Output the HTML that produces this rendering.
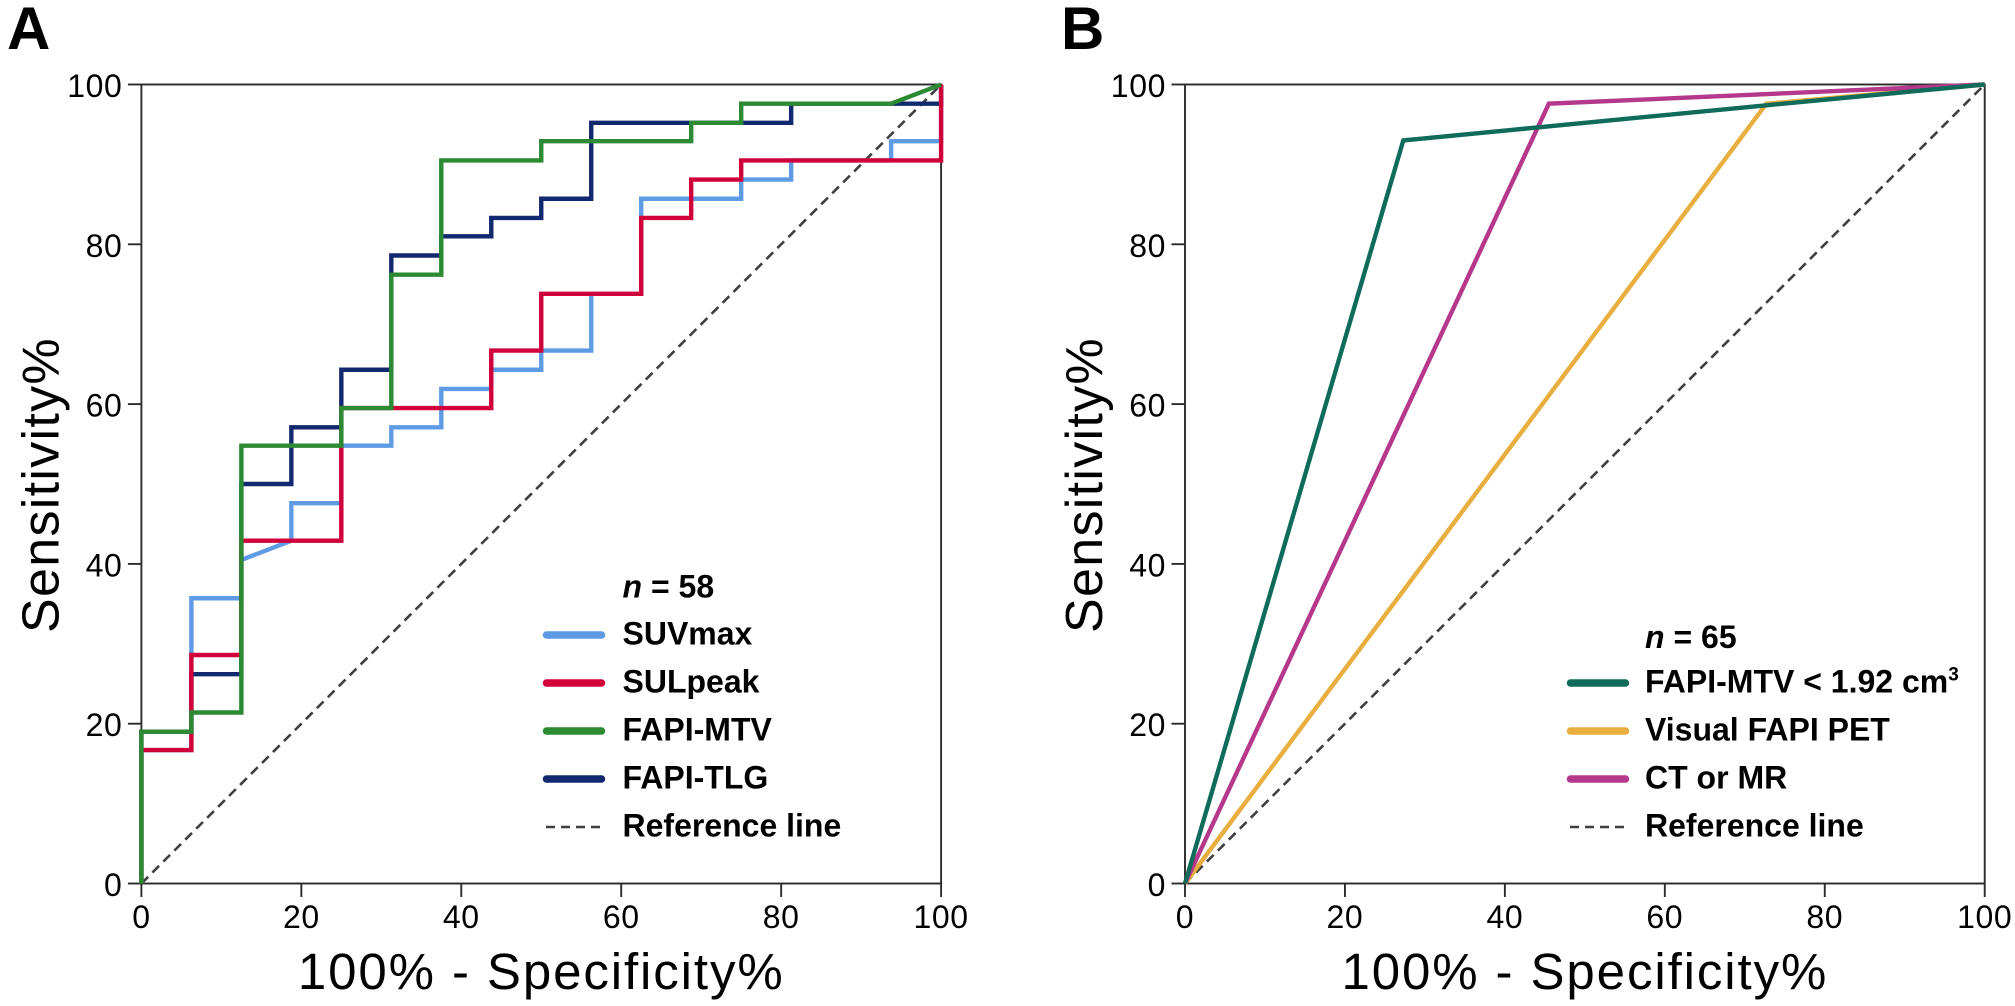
<!DOCTYPE html>
<html lang="en">
<head>
<meta charset="utf-8">
<title>ROC curves</title>
<style>
html,body{margin:0;padding:0;background:#fff;}
svg{display:block;font-family:"Liberation Sans",Arial,sans-serif;}
</style>
</head>
<body>
<svg id="fig" xmlns="http://www.w3.org/2000/svg" width="2015" height="1006" viewBox="0 0 2015 1006">
  <rect width="2015" height="1006" fill="#fff"/>
  <text x="7" y="49" font-size="60" font-weight="700" fill="#000">A</text>
  <text x="1061" y="49" font-size="60" font-weight="700" fill="#000">B</text>
  <g id="panelA"></g>
  <g id="panelB"></g>
</svg>
<script>
const xTicks = [0, 20, 40, 60, 80, 100];
const yTicks = [0, 20, 40, 60, 80, 100];
const referenceX = [0, 100];
const referenceY = [0, 100];

const suvmaxX = [0,0,6.25,6.25,12.5,12.5,18.75,18.75,25,25,31.25,31.25,37.5,37.5,43.75,43.75,50,50,56.25,56.25,62.5,62.5,75,75,81.25,81.25,93.75,93.75,100,100];
const suvmaxY = [0,16.7,16.7,35.7,35.7,40.5,42.9,47.6,47.6,54.8,54.8,57.1,57.1,61.9,61.9,64.3,64.3,66.7,66.7,73.8,73.8,85.7,85.7,88.1,88.1,90.5,90.5,92.9,92.9,100];

const tlgX = [0,0,6.25,6.25,12.5,12.5,18.75,18.75,25,25,31.25,31.25,37.5,37.5,43.75,43.75,50,50,56.25,56.25,81.25,81.25,100,100];
const tlgY = [0,19,19,26.2,26.2,50,50,57.1,57.1,64.3,64.3,78.6,78.6,81,81,83.3,83.3,85.7,85.7,95.2,95.2,97.6,97.6,100];

const sulpeakX = [0,0,6.25,6.25,12.5,12.5,25,25,43.75,43.75,50,50,62.5,62.5,68.75,68.75,75,75,100,100];
const sulpeakY = [0,16.7,16.7,28.6,28.6,42.9,42.9,59.5,59.5,66.7,66.7,73.8,73.8,83.3,83.3,88.1,88.1,90.5,90.5,100];

const mtvX = [0,0,6.25,6.25,12.5,12.5,25,25,31.25,31.25,37.5,37.5,50,50,68.75,68.75,75,75,93.75,100];
const mtvY = [0,19,19,21.4,21.4,54.8,54.8,59.5,59.5,76.2,76.2,90.5,90.5,92.9,92.9,95.2,95.2,97.6,97.6,100];

const cutoffX = [0,27.3,72.7,100];
const cutoffY = [0,93,97.4,100];
const visualX = [0,72.7,100];
const visualY = [0,97.6,100];
const ctmrX = [0,45.5,100];
const ctmrY = [0,97.6,100];

const legendALabels = ["SUVmax","SULpeak","FAPI-MTV","FAPI-TLG","Reference line"];
const legendBLabels = ["FAPI-MTV < 1.92 cm","Visual FAPI PET","CT or MR","Reference line"];

const SVGNS = "http://www.w3.org/2000/svg";
function mk(parent, tag, attrs, text) {
  const el = document.createElementNS(SVGNS, tag);
  for (const k in attrs) el.setAttribute(k, attrs[k]);
  if (text !== undefined) el.textContent = text;
  parent.appendChild(el);
  return el;
}
function panel(root, left) {
  const right = left + 799.7, top = 84.5, bottom = 883.5;
  const sx = v => left + (v / 100) * (right - left);
  const sy = v => bottom - (v / 100) * (bottom - top);

  const curve = (xs, ys, color, name, w, dash) => {
    const pts = xs.map((x, i) => sx(x).toFixed(2) + "," + sy(ys[i]).toFixed(2)).join(" ");
    const pl = mk(root, "polyline", {points: pts, fill: "none", stroke: color, "stroke-width": w, "stroke-linejoin": "miter"});
    if (dash) pl.setAttribute("stroke-dasharray", dash);
    
    
  };

  const frame = mk(root, "rect", {x: left, y: top, width: right - left, height: bottom - top, fill: "none", stroke: "#2b2b2b", "stroke-width": 1.9});
  
  

  xTicks.forEach(t => {
    const tick = mk(root, "line", {x1: sx(t), x2: sx(t), y1: bottom, y2: bottom + 13.5, stroke: "#2b2b2b", "stroke-width": 1.9});
    
    
    const lab = mk(root, "text", {x: sx(t), y: 928, "text-anchor": "middle", "font-size": 32, "letter-spacing": 0.6, fill: "#000"}, String(t));
    
    
  });
  yTicks.forEach(t => {
    const tick = mk(root, "line", {x1: left - 13.5, x2: left, y1: sy(t), y2: sy(t), stroke: "#2b2b2b", "stroke-width": 1.9});
    
    
    const lab = mk(root, "text", {x: left - 19, y: sy(t) + 12.5, "text-anchor": "end", "font-size": 32, "letter-spacing": 0.6, fill: "#000"}, String(t));
    
    
  });

  const yt = mk(root, "text", {transform: "translate(" + (left - 83) + ",485) rotate(-90)", "text-anchor": "middle", "font-size": 52, "letter-spacing": 1.3, fill: "#000"}, "Sensitivity%");
  
  
  const xt = mk(root, "text", {x: (left + right) / 2, y: 989, "text-anchor": "middle", "font-size": 51, "letter-spacing": 1.9, fill: "#000"}, "100% - Specificity%");
  
  

  return {curve};
}
function legend(root, headline, labels, colors, names, lx, tx, topY, headY) {
  const head = mk(root, "text", {x: tx, y: headY, "font-size": 32, "font-weight": 700, fill: "#000"});
  
  
  mk(head, "tspan", {"font-style": "italic"}, "n");
  mk(head, "tspan", {}, " = " + headline);
  labels.forEach((label, i) => {
    const y = topY + i * 48;
    const color = colors[i];
    const swatch = color
      ? mk(root, "line", {x1: lx + 3.5, x2: lx + 58.5, y1: y, y2: y, stroke: color, "stroke-width": 7.5, "stroke-linecap": "round"})
      : mk(root, "line", {x1: lx + 3, x2: lx + 60, y1: y, y2: y, stroke: "#3f3f3f", "stroke-width": 2.6, "stroke-dasharray": "9 6"});
    
    
    const t = mk(root, "text", {x: tx, y: y + 9.5, "font-size": 32, "font-weight": 700, fill: "#000"}, label);
    
    
    if (label.endsWith("cm")) {
      const sup = mk(t, "tspan", {"font-size": 19, dy: -12}, "3");
      
      
    }
  });
}

const gA = document.getElementById("panelA");
const pA = panel(gA, 141.4);
pA.curve(referenceX, referenceY, "#3f3f3f", "reference-line-a", 2.6, "9.5 6");
pA.curve(suvmaxX, suvmaxY, "#5E9BE4", "curve-suvmax", 4.4);
pA.curve(tlgX, tlgY, "#12296F", "curve-fapi-tlg", 4.4);
pA.curve(sulpeakX, sulpeakY, "#D1003A", "curve-sulpeak", 4.4);
pA.curve(mtvX, mtvY, "#2B8A32", "curve-fapi-mtv", 4.4);
legend(gA, "58", legendALabels, ["#5E9BE4","#D1003A","#2B8A32","#12296F",null], ["suvmax","sulpeak","fapi-mtv","fapi-tlg","reference"], 543, 622.5, 635, 597.5);

const gB = document.getElementById("panelB");
const pB = panel(gB, 1185);
pB.curve(referenceX, referenceY, "#3f3f3f", "reference-line-b", 2.6, "9.5 6");
pB.curve(visualX, visualY, "#E8AE3F", "curve-visual-fapi-pet", 4.4);
pB.curve(ctmrX, ctmrY, "#B5388C", "curve-ct-or-mr", 4.4);
pB.curve(cutoffX, cutoffY, "#0F6B5A", "curve-fapi-mtv-cutoff", 4.4);
legend(gB, "65", legendBLabels, ["#0F6B5A","#E8AE3F","#B5388C",null], ["fapi-mtv-cutoff","visual-fapi-pet","ct-or-mr","reference"], 1567, 1645, 683, 648);
</script>
</body>
</html>
